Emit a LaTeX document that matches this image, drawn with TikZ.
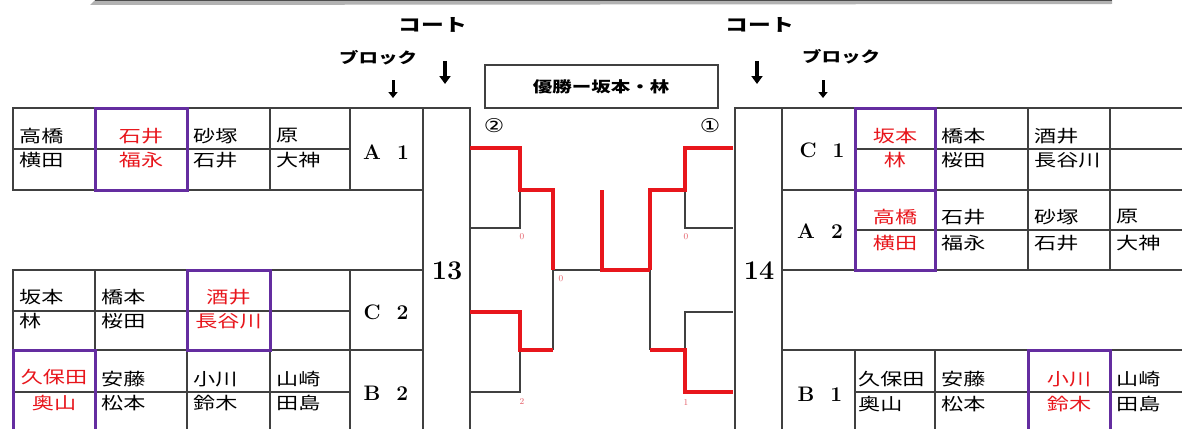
\documentclass[tikz,border=0pt]{standalone}
\usepackage{fontspec}
\newfontfamily\jp[FakeStretch=1.3]{Noto Sans CJK JP}
\newfontfamily\circfont[FakeStretch=1.2]{DejaVu Sans}
\usetikzlibrary{arrows.meta}
\definecolor{myred}{RGB}{232,22,28}
\definecolor{mypurple}{RGB}{100,45,160}
\definecolor{scorered}{RGB}{228,90,100}
\begin{document}
\begin{tikzpicture}[x=1pt,y=-1pt,
  gridline/.style={draw=black!75,line width=1.4pt,line cap=rect},
  thinline/.style={draw=black!75,line width=1.3pt},
  winline/.style={draw=myred,line width=4pt,line join=miter},
  pbox/.style={draw=mypurple,line width=3pt},
  nm/.style={font=\jp\fontsize{17}{17}\selectfont,text=black,inner sep=0pt,anchor=west},
  rn/.style={font=\jp\fontsize{17}{17}\selectfont,text=myred,inner sep=0pt},
  blk/.style={font=\fontsize{21}{21}\selectfont\bfseries,inner sep=0pt},
  courtno/.style={font=\fontsize{27}{27}\selectfont\bfseries,inner sep=0pt},
  hdr/.style={font=\jp\bfseries\fontsize{17.5}{17.5}\selectfont,inner sep=0pt},
  hdrs/.style={font=\jp\bfseries\fontsize{15}{15}\selectfont,inner sep=0pt},
  score/.style={font=\fontsize{9}{9}\selectfont,text=scorered,inner sep=0pt},
  bigarrow/.style={line width=4pt,-{Triangle[width=11pt,length=8pt]}},
  smallarrow/.style={line width=3pt,-{Triangle[width=9pt,length=6pt]}}
]
\useasboundingbox (0,0) rectangle (1182,428);
\clip (0,0) rectangle (1182,428);
\fill[white] (0,0) rectangle (1182,428);

% top bar
\fill[gray!60] (90,5) -- (95,0) -- (1112,0) -- (1112,4) -- cycle;
\draw[black!70,line width=1.5pt] (95,0.7) -- (1112,0.7);

% headers
\node[hdr] (courtL) at (433,25) {コート};
\node[hdr] (courtR) at (760,25) {コート};
\node[hdrs] (blockL) at (378,58) {ブロック};
\node[hdrs] (blockR) at (841,57) {ブロック};
\coordinate (caL1) at (445,61); \coordinate (caL2) at (445,84);
\coordinate (caR1) at (757,61); \coordinate (caR2) at (757,84);
\coordinate (baL1) at (393,80); \coordinate (baL2) at (393,98);
\coordinate (baR1) at (823,80); \coordinate (baR2) at (823,98);
\draw[bigarrow] (caL1) -- (caL2);
\draw[bigarrow] (caR1) -- (caR2);
\draw[smallarrow] (baL1) -- (baL2);
\draw[smallarrow] (baR1) -- (baR2);

% champion box
\draw[gridline] (485,65) rectangle (718,108);
\node[font=\jp\bfseries\fontsize{15}{15}\selectfont,inner sep=0pt] (champ) at (601,87) {優勝ー坂本・林};
\node[font=\circfont\fontsize{19}{19}\selectfont,inner sep=0pt] (c2) at (494,126) {②};
\node[font=\circfont\fontsize{19}{19}\selectfont,inner sep=0pt] (c1) at (710,126) {①};

% ---------- left table ----------
\draw[gridline] (13,108) -- (470,108);
\draw[gridline] (13,190) -- (423,190);
\draw[gridline] (13,270) -- (423,270);
\draw[gridline] (13,350) -- (423,350);
\draw[gridline] (13,149) -- (350,149);
\draw[gridline] (13,311) -- (350,311);
\draw[gridline] (13,392) -- (350,392);
\foreach \x in {13,95,187,270,350}{
  \draw[gridline] (\x,108) -- (\x,190);
  \draw[gridline] (\x,270) -- (\x,440);
}
\draw[gridline] (423,108) -- (423,440);
\draw[gridline] (470,108) -- (470,440);

% ---------- right table ----------
\draw[gridline] (735,108) -- (1190,108);
\draw[gridline] (782,190) -- (1190,190);
\draw[gridline] (782,270) -- (1190,270);
\draw[gridline] (782,350) -- (1190,350);
\draw[gridline] (855,149) -- (1190,149);
\draw[gridline] (855,230) -- (1190,230);
\draw[gridline] (855,392) -- (1190,392);
\draw[gridline] (735,108) -- (735,440);
\draw[gridline] (782,108) -- (782,440);
\foreach \x in {855,935,1028,1110}{
  \draw[gridline] (\x,108) -- (\x,270);
  \draw[gridline] (\x,350) -- (\x,440);
}

% purple boxes
\draw[pbox] (95,108) rectangle (187,190);
\draw[pbox] (187,270) rectangle (270,350);
\draw[pbox] (13,350) rectangle (95,440);
\draw[pbox] (855,108) rectangle (935,190);
\draw[pbox] (855,190) rectangle (935,270);
\draw[pbox] (1028,350) rectangle (1110,440);

% court numbers
\node[courtno] (ct13) at (447,271) {13};
\node[courtno] (ct14) at (759,271) {14};

% block labels
\node[blk] (bA1) at (386,152) {A\hspace{16pt}1};
\node[blk] (bC2) at (386,312) {C\hspace{16pt}2};
\node[blk] (bB2) at (386,393) {B\hspace{16pt}2};
\node[blk] (bC1) at (822,150) {C\hspace{16pt}1};
\node[blk] (bA2) at (820,231) {A\hspace{16pt}2};
\node[blk] (bB1) at (820,394) {B\hspace{16pt}1};

% left names A1
\node[nm] (l1a) at (19,136) {高橋};
\node[nm] (l1b) at (19,160) {横田};
\node[rn] (l1c) at (141,136) {石井};
\node[rn] (l1d) at (141,160) {福永};
\node[nm] (l1e) at (193,136) {砂塚};
\node[nm] (l1f) at (193,160) {石井};
\node[nm] (l1g) at (276,136) {原};
\node[nm] (l1h) at (276,160) {大神};
% left names C2
\node[nm] (l2a) at (19,297) {坂本};
\node[nm] (l2b) at (19,321) {林};
\node[nm] (l2c) at (101,297) {橋本};
\node[nm] (l2d) at (101,321) {桜田};
\node[rn] (l2e) at (228.5,297) {酒井};
\node[rn] (l2f) at (228.5,321) {長谷川};
% left names B2
\node[rn] (l3a) at (54,377) {久保田};
\node[rn] (l3b) at (54,403) {奥山};
\node[nm] (l3c) at (101,379) {安藤};
\node[nm] (l3d) at (101,403) {松本};
\node[nm] (l3e) at (193,379) {小川};
\node[nm] (l3f) at (193,403) {鈴木};
\node[nm] (l3g) at (276,379) {山崎};
\node[nm] (l3h) at (276,403) {田島};

% right names C1
\node[rn] (r1a) at (895,136) {坂本};
\node[rn] (r1b) at (895,160) {林};
\node[nm] (r1c) at (941,136) {橋本};
\node[nm] (r1d) at (941,160) {桜田};
\node[nm] (r1e) at (1034,136) {酒井};
\node[nm] (r1f) at (1034,160) {長谷川};
% right names A2
\node[rn] (r2a) at (895,217) {高橋};
\node[rn] (r2b) at (895,243) {横田};
\node[nm] (r2c) at (941,217) {石井};
\node[nm] (r2d) at (941,243) {福永};
\node[nm] (r2e) at (1034,217) {砂塚};
\node[nm] (r2f) at (1034,243) {石井};
\node[nm] (r2g) at (1116,217) {原};
\node[nm] (r2h) at (1116,243) {大神};
% right names B1
\node[nm] (r3a) at (858,379) {久保田};
\node[nm] (r3b) at (858,404) {奥山};
\node[nm] (r3c) at (941,379) {安藤};
\node[nm] (r3d) at (941,404) {松本};
\node[rn] (r3e) at (1069,379) {小川};
\node[rn] (r3f) at (1069,404) {鈴木};
\node[nm] (r3g) at (1116,379) {山崎};
\node[nm] (r3h) at (1116,404) {田島};

% ---------- bracket ----------
% thin black parts
\draw[thinline] (520,190) -- (520,228) -- (470,228);
\draw[thinline] (553,270) -- (602,270);
\draw[thinline] (553,270) -- (553,350);
\draw[thinline] (520,350) -- (520,392) -- (470,392);
\draw[thinline] (685,190) -- (685,228) -- (733,228);
\draw[thinline] (650,270) -- (650,350);
\draw[thinline] (685,350) -- (685,312) -- (733,312);
% winners
\draw[winline] (470,148) -- (520,148) -- (520,190) -- (553,190) -- (553,270);
\draw[winline] (470,312) -- (520,312) -- (520,350) -- (553,350);
\draw[winline] (602,190) -- (602,270) -- (650,270);
\draw[winline] (733,148) -- (685,148) -- (685,190) -- (650,190) -- (650,270);
\draw[winline] (650,350) -- (685,350) -- (685,392) -- (733,392);

% scores
\node[score] (s1) at (522,237) {0};
\node[score] (s2) at (561,279) {0};
\node[score] (s3) at (686,237) {0};
\node[score] (s4) at (522,401) {2};
\node[score] (s5) at (686,402) {1};
\end{tikzpicture}
\end{document}
